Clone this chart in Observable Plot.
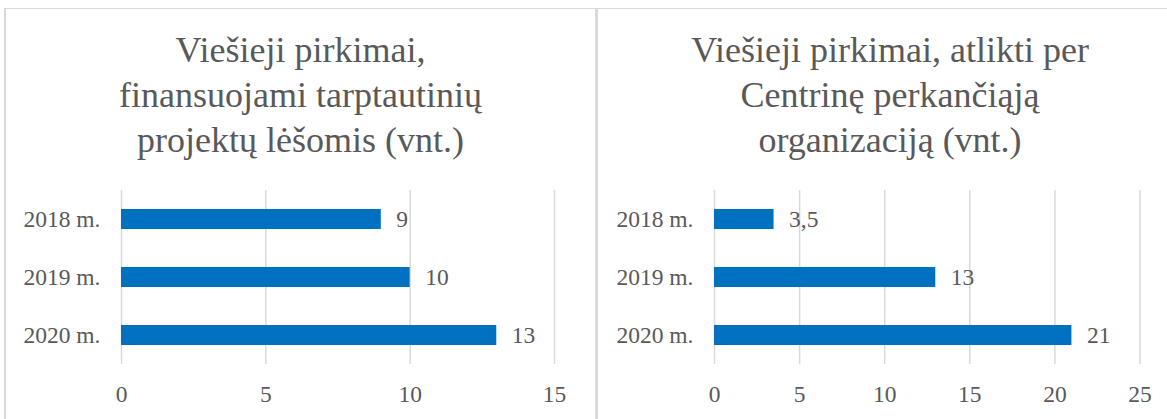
<!DOCTYPE html>
<html>
<head>
<meta charset="utf-8">
<script src="https://cdn.jsdelivr.net/npm/d3@7"></script>
<script src="https://cdn.jsdelivr.net/npm/@observablehq/plot@0.6"></script>
<style>
  html, body { margin: 0; padding: 0; background: #fff; }
  #wrap { position: relative; width: 1167px; height: 419px; overflow: hidden; background: #fff; }
  .panel { position: absolute; top: 8px; height: 430px; border-top: 1px solid #d9d9d9; box-sizing: content-box; }
  #p1 { left: 4px; width: 589px; border-left: 2px solid #d9d9d9; border-right: 1px solid #d9d9d9; }
  #p2 { left: 596px; width: 584px; border-left: 2px solid #d9d9d9; }
  .title { position: absolute; left: 0; top: 19px; width: 100%; text-align: center;
           font-size: 36px; line-height: 45px; color: #595959; }
  .chart { position: absolute; left: 0; top: 0; }
</style>
</head>
<body>
<div id="wrap">
  <div class="panel" id="p1"><div class="chart" id="c1"></div><div class="title" id="t1"></div></div>
  <div class="panel" id="p2"><div class="chart" id="c2"></div><div class="title" id="t2"></div></div>
</div>
<script>
// ---- data ----
const years = ["2018 m.", "2019 m.", "2020 m."];
const intlProjectValues = [9, 10, 13];
const centralOrgValues = [3.5, 13, 21];
const ticks1 = [0, 5, 10, 15];
const ticks2 = [0, 5, 10, 15, 20, 25];
const title1Lines = ["Viešieji pirkimai,", "finansuojami tarptautinių", "projektų lėšomis (vnt.)"];
const title2Lines = ["Viešieji pirkimai, atlikti per", "Centrinę perkančiąją", "organizaciją (vnt.)"];

const SERIF = "Liberation Serif, Times New Roman, serif";
const fmt = v => String(v).replace(".", ",");

function makeChart(values, ticks, width, marginLeft, marginRight) {
  const data = years.map((y, i) => ({year: y, v: values[i]}));
  return Plot.plot({
    width, height: 410,
    marginTop: 181, marginBottom: 55, marginLeft, marginRight,
    style: {fontFamily: SERIF, fontSize: "23.5px", color: "#595959", background: "#fff", overflow: "visible"},
    x: {domain: [ticks[0], ticks[ticks.length - 1]], label: null},
    y: {domain: years, paddingInner: 0.655, paddingOuter: 0.3275, label: null},
    marks: [
      Plot.gridX(ticks, {stroke: "#d9d9d9", strokeOpacity: 1, strokeWidth: 1.5}),
      Plot.barX(data, {x: "v", y: "year", fill: "#0070C0"}),
      Plot.text(data, {x: "v", y: "year", text: d => fmt(d.v), dx: 15, textAnchor: "start", fill: "#595959", fontSize: 23.5}),
      Plot.axisX(ticks, {tickSize: 0, tickPadding: 21, label: null, fill: "#595959"}),
      Plot.axisY({tickSize: 0, tickPadding: 21, label: null, fill: "#595959"})
    ]
  });
}

document.getElementById("c1").append(makeChart(intlProjectValues, ticks1, 589, 115, 41));
document.getElementById("c2").append(makeChart(centralOrgValues, ticks2, 584, 116, 42.5));
for (const [id, lines] of [["t1", title1Lines], ["t2", title2Lines]]) {
  const el = document.getElementById(id);
  el.style.fontFamily = SERIF;
  lines.forEach((line, i) => {
    if (i) el.appendChild(document.createElement("br"));
    el.appendChild(document.createTextNode(line));
  });
}
</script>
</body>
</html>
